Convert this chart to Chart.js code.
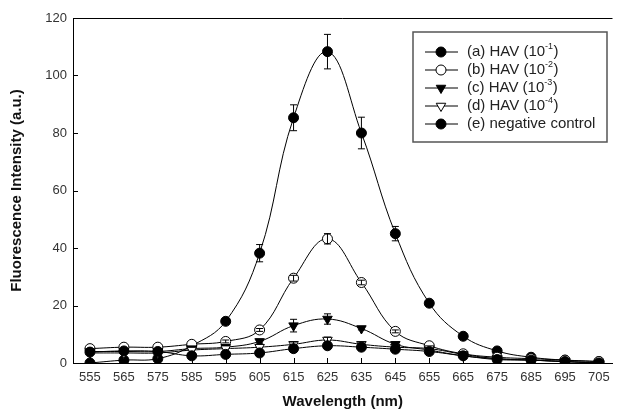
<!DOCTYPE html>
<html>
<head>
<meta charset="utf-8">
<script src="https://cdn.jsdelivr.net/npm/chart.js@4.4.0/dist/chart.umd.min.js"></script>
<style>
  html, body { margin: 0; padding: 0; background: #fff; }
  #wrap { width: 619px; height: 417px; }
</style>
</head>
<body>
<div id="wrap"><canvas id="myChart" width="619" height="417"></canvas></div>
<script>
// wavelengths (nm)
var wavelengths = [555, 565, 575, 585, 595, 605, 615, 625, 635, 645, 655, 665, 675, 685, 695, 705];
var yTicks = [0, 20, 40, 60, 80, 100, 120];

var hav1 = [0, 1, 1.5, 6, 14.5, 38.2, 85.3, 108.3, 80, 45, 20.8, 9.3, 4.2, 2, 1, 0.5];
var hav1Err = [0, 0, 0, 0, 0.8, 3, 4.5, 6, 5.5, 2.5, 1, 0.5, 0, 0, 0, 0];
var hav2 = [5, 5.5, 5.5, 6.5, 7.5, 11.5, 29.5, 43.2, 28, 11, 6, 3.2, 2, 1.5, 1, 0.5];
var hav2Err = [0, 0, 0, 0, 0.5, 0.5, 1, 1.8, 0.8, 0.5, 0, 0, 0, 0, 0, 0];
var hav3 = [4, 4, 4, 5, 5.5, 7.5, 13, 15.3, 12, 6.5, 4.5, 2.5, 1.5, 1, 0.5, 0];
var hav3Err = [0, 0, 0, 0, 0, 0.8, 2.2, 1.8, 0.5, 0.8, 0, 0, 0, 0, 0, 0];
var hav4 = [3.5, 3.5, 3.5, 4.5, 5, 5.5, 6.5, 8, 6.5, 5.5, 5, 3, 1.5, 1, 0.5, 0];
var hav4Err = [0, 0, 0, 0, 0, 0, 0.8, 1, 0.5, 0.5, 0, 0, 0, 0, 0, 0];
var negCtrl = [3.8, 4.2, 4, 2.5, 3, 3.5, 5, 6, 5.5, 4.8, 4, 2.5, 1.2, 1, 0.5, 0];
var negCtrlErr = [0, 0, 0, 0, 0, 0, 0, 0.5, 0, 0, 0, 0, 0, 0, 0, 0];

var labels = ['(a) HAV (10', '(b) HAV (10', '(c) HAV (10', '(d) HAV (10', '(e) negative control'];
var exps = ['-1', '-2', '-3', '-4', null];

var FONT = 'Arial, "Liberation Sans", sans-serif';

function pts(arr) {
    return arr.map(function(v, i) { return { x: wavelengths[i], y: v }; });
}

function makeSet(i, arr, err, style, fill, rot) {
    return {
        label: labels[i],
        exp: exps[i],
        data: pts(arr),
        err: err,
        borderColor: '#000',
        borderWidth: 1,
        tension: 0.4,
        pointStyle: style,
        pointRotation: rot,
        pointRadius: style === 'triangle' ? 5.5 : 5,
        pointBackgroundColor: fill,
        pointBorderColor: '#000',
        pointBorderWidth: 1
    };
}

var datasets = [
    makeSet(4, negCtrl, negCtrlErr, 'circle', '#000', 0),
    makeSet(3, hav4, hav4Err, 'triangle', '#fff', 180),
    makeSet(2, hav3, hav3Err, 'triangle', '#000', 180),
    makeSet(1, hav2, hav2Err, 'circle', '#fff', 0),
    makeSet(0, hav1, hav1Err, 'circle', '#000', 0)
];

// error bars, inward ticks, top frame line
var extras = {
    id: 'extras',
    afterDatasetsDraw: function(chart) {
        var ctx = chart.ctx;
        var xs = chart.scales.x, ys = chart.scales.y;
        ctx.save();
        ctx.strokeStyle = '#000';
        ctx.lineWidth = 1;
        chart.data.datasets.forEach(function(ds) {
            ds.data.forEach(function(p, i) {
                var e = ds.err[i];
                if (!e) return;
                var px = xs.getPixelForValue(p.x);
                var top = ys.getPixelForValue(p.y + e);
                var bot = ys.getPixelForValue(p.y - e);
                ctx.beginPath();
                ctx.moveTo(px, top); ctx.lineTo(px, bot);
                ctx.moveTo(px - 3.5, top); ctx.lineTo(px + 3.5, top);
                ctx.moveTo(px - 3.5, bot); ctx.lineTo(px + 3.5, bot);
                ctx.stroke();
            });
        });
        var a = chart.chartArea;
        ctx.beginPath();
        wavelengths.forEach(function(w) {
            var px = Math.round(xs.getPixelForValue(w)) + 0.5;
            ctx.moveTo(px, a.bottom); ctx.lineTo(px, a.bottom - 5);
        });
        yTicks.forEach(function(v) {
            var py = Math.round(ys.getPixelForValue(v)) + 0.5;
            ctx.moveTo(a.left, py); ctx.lineTo(a.left + 5, py);
        });
        ctx.moveTo(a.left, a.top + 0.5); ctx.lineTo(a.right, a.top + 0.5);
        ctx.stroke();
        ctx.restore();
    }
};

// boxed legend with superscripts
var boxLegend = {
    id: 'boxLegend',
    afterDraw: function(chart) {
        var ctx = chart.ctx;
        var bx = 413, by = 32, bw = 194, bh = 110;
        ctx.save();
        ctx.fillStyle = '#fff';
        ctx.fillRect(bx, by, bw, bh);
        ctx.strokeStyle = '#555';
        ctx.lineWidth = 1.5;
        ctx.strokeRect(bx, by, bw, bh);
        var order = datasets.slice().reverse();
        order.forEach(function(ds, k) {
            var ry = 52 + k * 18;
            ctx.strokeStyle = '#000';
            ctx.lineWidth = 1;
            ctx.beginPath();
            ctx.moveTo(425, ry); ctx.lineTo(458, ry);
            ctx.stroke();
            ctx.fillStyle = ds.pointBackgroundColor;
            ctx.strokeStyle = '#000';
            Chart.helpers.drawPoint(ctx, {
                pointStyle: ds.pointStyle,
                rotation: ds.pointRotation,
                radius: ds.pointRadius,
                borderWidth: 1
            }, 441, ry);
            ctx.fillStyle = '#222';
            ctx.textBaseline = 'middle';
            ctx.textAlign = 'left';
            ctx.font = '15px ' + FONT;
            ctx.fillText(ds.label, 467, ry);
            if (ds.exp) {
                var w = ctx.measureText(ds.label).width;
                ctx.font = '9px ' + FONT;
                ctx.fillText(ds.exp, 467 + w, ry - 5);
                var w2 = ctx.measureText(ds.exp).width;
                ctx.font = '15px ' + FONT;
                ctx.fillText(')', 467 + w + w2 + 0.5, ry);
            }
        });
        ctx.restore();
    }
};

var ctx = document.getElementById('myChart');
var myChart = new Chart(ctx, {
    type: 'line',
    data: { datasets: datasets },
    options: {
        responsive: false,
        animation: false,
        devicePixelRatio: 1,
        layout: { padding: { top: 18, right: 0, left: 0, bottom: 0 } },
        plugins: { legend: { display: false }, tooltip: { enabled: false } },
        scales: {
            x: {
                type: 'linear',
                min: 550,
                max: 709,
                afterBuildTicks: function(scale) {
                    scale.ticks = wavelengths.map(function(v) { return { value: v }; });
                },
                afterFit: function(scale) { scale.height = 54; },
                grid: { drawOnChartArea: false, drawTicks: false },
                border: { display: true, color: '#000', width: 1 },
                ticks: {
                    padding: 7,
                    maxRotation: 0,
                    autoSkip: false,
                    color: '#333',
                    font: { family: FONT, size: 13 }
                },
                title: {
                    display: true,
                    text: 'Wavelength (nm)',
                    color: '#111',
                    padding: { top: 4, bottom: 6 },
                    font: { family: FONT, size: 15, weight: 'bold' }
                }
            },
            y: {
                min: 0,
                max: 120,
                afterBuildTicks: function(scale) {
                    scale.ticks = yTicks.map(function(v) { return { value: v }; });
                },
                afterFit: function(scale) { scale.width = 73; },
                grid: { drawOnChartArea: false, drawTicks: false },
                border: { display: true, color: '#000', width: 1 },
                ticks: {
                    padding: 6,
                    color: '#333',
                    font: { family: FONT, size: 13 }
                },
                title: {
                    display: true,
                    text: 'Fluorescence Intensity (a.u.)',
                    color: '#111',
                    padding: { top: 8, bottom: 4 },
                    font: { family: FONT, size: 15, weight: 'bold' }
                }
            }
        }
    },
    plugins: [extras, boxLegend]
});
</script>
</body>
</html>
